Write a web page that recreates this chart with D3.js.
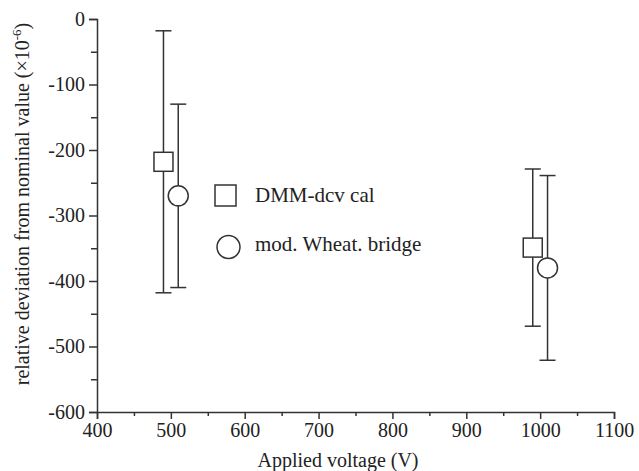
<!DOCTYPE html>
<html>
<head>
<meta charset="utf-8">
<script src="https://cdn.jsdelivr.net/npm/d3@7"></script>
<style>
  body { margin: 0; background: #fff; }
  text { font-family: "Liberation Serif", "Times New Roman", "DejaVu Serif", serif; fill: #222; }
</style>
</head>
<body>
<div id="chart"></div>
<script>
// data
var voltage = [490, 990];        // DMM-dcv cal (plotted offset left)
var voltage2 = [510, 1010];      // mod. Wheat. bridge (offset right)
var dmmValue = [-218, -349];
var dmmErr = [200, 120];
var bridgeValue = [-270, -380];
var bridgeErr = [140, 141];
var xTicks = [400, 500, 600, 700, 800, 900, 1000, 1100];
var yTicks = [0, -100, -200, -300, -400, -500, -600];
var legendNames = ['DMM-dcv cal', 'mod. Wheat. bridge'];

var width = 639, height = 471;
var ink = '#333';

var svg = d3.select('#chart').append('svg')
    .attr('width', width)
    .attr('height', height);

var x = d3.scaleLinear().domain([400, 1100]).range([97, 614]);
var y = d3.scaleLinear().domain([-600, 0]).range([412, 19]);

// x axis
var xAxis = d3.axisBottom(x)
    .tickValues(d3.range(400, 1101, 50))
    .tickSize(7)
    .tickFormat(function(d) { return xTicks.indexOf(d) >= 0 ? d : ''; });

var gx = svg.append('g')
    .attr('transform', 'translate(0,' + y(-600) + ')')
    .call(xAxis);
gx.select('.domain').attr('stroke', ink).attr('stroke-width', 1.5);
gx.selectAll('.tick line').attr('stroke', ink).attr('stroke-width', 1.5)
    .attr('y2', function(d) { return d % 100 === 0 ? 7 : 4; });
gx.selectAll('.tick text').attr('font-size', '20px').attr('y', 11);

// y axis
var yAxis = d3.axisLeft(y)
    .tickValues(d3.range(-600, 1, 50))
    .tickSize(8)
    .tickFormat(function(d) { return yTicks.indexOf(d) >= 0 ? d : ''; });

var gy = svg.append('g')
    .attr('transform', 'translate(' + x(400) + ',0)')
    .call(yAxis);
gy.select('.domain').attr('stroke', ink).attr('stroke-width', 1.5);
gy.selectAll('.tick line').attr('stroke', ink).attr('stroke-width', 1.5)
    .attr('x2', function(d) { return d % 100 === 0 ? -8 : -6; });
gy.selectAll('.tick text').attr('font-size', '20px').attr('x', -12);

// axis titles
svg.append('text')
    .attr('x', 338)
    .attr('y', 467)
    .attr('text-anchor', 'middle')
    .attr('font-size', '20px')
    .text('Applied voltage (V)');

var yt = svg.append('text')
    .attr('transform', 'translate(29,' + 204 + ') rotate(-90)')
    .attr('text-anchor', 'middle')
    .attr('font-size', '20px');
yt.append('tspan').text('relative deviation from nominal value (\u00d710');
yt.append('tspan').attr('font-size', '13px').attr('dy', -8).text('-6');
yt.append('tspan').attr('dy', 8).text(')');

// error bars
function errorBars(xs, vals, errs) {
  var g = svg.append('g');
  xs.forEach(function(v, i) {
    var cx = x(v);
    var top = y(vals[i] + errs[i]), bot = y(vals[i] - errs[i]);
    g.append('line').attr('x1', cx).attr('x2', cx).attr('y1', top).attr('y2', bot)
      .attr('stroke', ink).attr('stroke-width', 1.5);
    [top, bot].forEach(function(yy) {
      g.append('line').attr('x1', cx - 8).attr('x2', cx + 8).attr('y1', yy).attr('y2', yy)
        .attr('stroke', ink).attr('stroke-width', 1.5);
    });
  });
}
errorBars(voltage, dmmValue, dmmErr);
errorBars(voltage2, bridgeValue, bridgeErr);

// markers
svg.selectAll('.sq').data(voltage).enter().append('rect')
    .attr('x', function(d) { return x(d) - 9.5; })
    .attr('y', function(d, i) { return y(dmmValue[i]) - 9.5; })
    .attr('width', 19).attr('height', 19)
    .attr('fill', '#fff').attr('stroke', ink).attr('stroke-width', 1.5);

svg.selectAll('.ci').data(voltage2).enter().append('circle')
    .attr('cx', function(d) { return x(d); })
    .attr('cy', function(d, i) { return y(bridgeValue[i]); })
    .attr('r', 10)
    .attr('fill', '#fff').attr('stroke', ink).attr('stroke-width', 1.5);

// legend
svg.append('rect')
    .attr('x', 215).attr('y', 185).attr('width', 21).attr('height', 21)
    .attr('fill', '#fff').attr('stroke', ink).attr('stroke-width', 1.5);
svg.append('circle')
    .attr('cx', 228.5).attr('cy', 247).attr('r', 11.5)
    .attr('fill', '#fff').attr('stroke', ink).attr('stroke-width', 1.5);
svg.selectAll('.leg').data(legendNames).enter().append('text')
    .attr('x', 255)
    .attr('y', function(d, i) { return 202 + i * 49; })
    .attr('font-size', '21px')
    .text(function(d) { return d; });
</script>
</body>
</html>
